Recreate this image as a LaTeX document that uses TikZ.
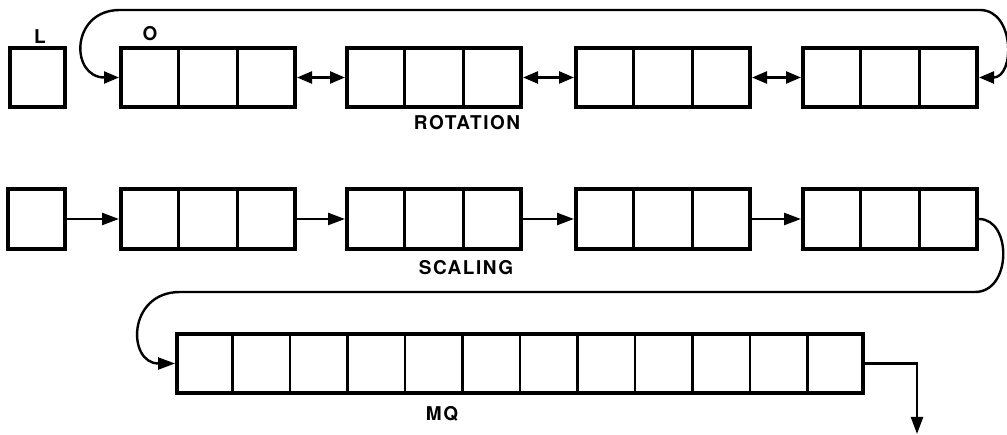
\documentclass[tikz,border=0pt]{standalone}
\usepackage{fontspec}
\newfontfamily\labfont[LetterSpace=8]{TeX Gyre Heros}
\usetikzlibrary{arrows.meta,calc}
\begin{document}
\begin{tikzpicture}[x=1pt,y=-1pt,
  cellbox/.style={draw, line width=4pt, minimum height=59pt, inner sep=0pt},
  divider/.style={line width=2.8pt},
  link/.style={line width=2.4pt, -{Triangle[length=17pt,width=12pt]}},
  dlink/.style={line width=2.4pt, {Triangle[length=15pt,width=12pt]}-{Triangle[length=15pt,width=12pt]}},
  lab/.style={font=\labfont\bfseries\fontsize{19}{19}\selectfont, inner sep=0pt}]
\useasboundingbox (0,0) rectangle (1007,435);

% row 1 (rotation)
\node[cellbox, minimum width=55pt] (L) at (37.5,77.5) {};
\node[cellbox, minimum width=174pt] (R1) at (208,77.5) {};
\node[cellbox, minimum width=174pt] (R2) at (434,77.5) {};
\node[cellbox, minimum width=174pt] (R3) at (663,77.5) {};
\node[cellbox, minimum width=174pt] (R4) at (890,77.5) {};

% row 2 (scaling)
\node[cellbox, minimum width=57pt, minimum height=60pt] (S0) at (36.5,219) {};
\node[cellbox, minimum width=174pt, minimum height=60pt] (S1) at (208,219) {};
\node[cellbox, minimum width=174pt, minimum height=60pt] (S2) at (434,219) {};
\node[cellbox, minimum width=174pt, minimum height=60pt] (S3) at (663,219) {};
\node[cellbox, minimum width=174pt, minimum height=60pt] (S4) at (890,219) {};

% row 3 (MQ)
\node[cellbox, minimum width=686pt] (MQ) at (520,363.5) {};

% dividers
\foreach \b in {R1,R2,R3,R4,S1,S2,S3,S4}{
  \foreach \i in {1,2}{
    \draw[divider] ($(\b.north west)!\i/3!(\b.north east)$) -- ($(\b.south west)!\i/3!(\b.south east)$);
  }
}
\foreach \i in {1,...,11}{
  \draw[divider] ($(MQ.north west)!\i/12!(MQ.north east)$) -- ($(MQ.south west)!\i/12!(MQ.south east)$);
}

% labels
\node[lab] (lL) at (40,37) {L};
\node[lab] (lO) at (150,34) {O};
\node[lab] (lrot) at (467,123) {ROTATION};
\node[lab] (lsca) at (466,268) {SCALING};
\node[lab] (lmq) at (442,414) {MQ};

% row 1 connectors
\draw[dlink] (R1.east) -- (R2.west);
\draw[dlink] (R2.east) -- (R3.west);
\draw[dlink] (R3.east) -- (R4.west);
\draw[dlink] (R1.west) .. controls (70,77.5) and (70,10) .. (120,10) -- (980,10) .. controls (1015,10) and (1015,77.5) .. (R4.east);

% row 2 connectors
\draw[link] (S0.east) -- (S1.west);
\draw[link] (S1.east) -- (S2.west);
\draw[link] (S2.east) -- (S3.west);
\draw[link] (S3.east) -- (S4.west);
\draw[link] (S4.east) .. controls (1012,219) and (1012,292) .. (975,292) -- (180,292) .. controls (127,292) and (127,363.5) .. (MQ.west);

% output
\coordinate (outend) at (917,434);
\draw[link] (MQ.east) -| (outend);
\end{tikzpicture}
\end{document}
